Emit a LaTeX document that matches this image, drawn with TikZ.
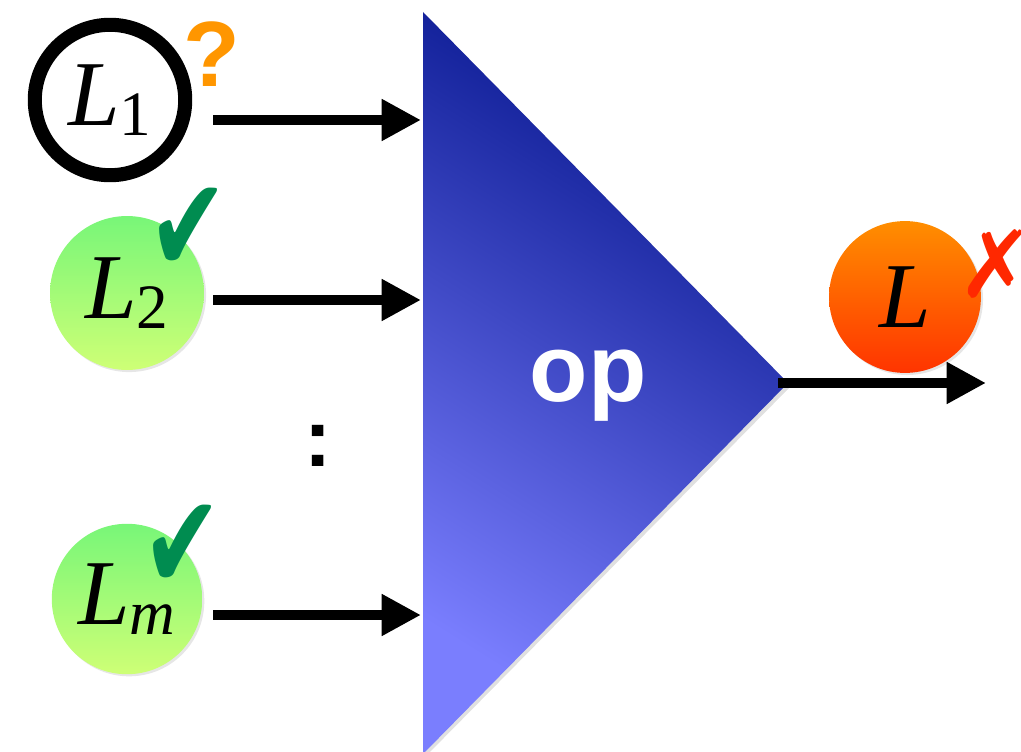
\documentclass[tikz,border=0pt]{standalone}
\usepackage{fontspec}
\setmainfont{Liberation Serif}
\newfontfamily\headfont{Liberation Sans}
\newfontfamily\markfont{DejaVu Sans}
\usetikzlibrary{arrows.meta,shadows}
\definecolor{opdark}{RGB}{4,20,140}
\definecolor{opmid}{RGB}{22,38,166}
\definecolor{oplight}{RGB}{122,126,254}
\definecolor{okgreen}{RGB}{0,140,80}
\definecolor{greentop}{RGB}{120,246,120}
\definecolor{greenbot}{RGB}{206,255,118}
\definecolor{orangetop}{RGB}{255,142,0}
\definecolor{orangebot}{RGB}{255,52,0}
\definecolor{qorange}{RGB}{255,150,0}
\definecolor{badred}{RGB}{255,40,0}
\newcommand\lname[1]{\textit{L}\raisebox{-0.1em}{\fontsize{45}{45}\selectfont #1}}
\tikzset{
  lang/.style={circle, inner sep=0pt, font=\fontsize{66}{66}\selectfont},
  ring/.style={lang, draw=black, line width=10pt, fill=white, minimum size=107pt,
    drop shadow={shadow xshift=1.5pt, shadow yshift=-1.5pt, opacity=0.25}},
  ok/.style={lang, top color=greentop, bottom color=greenbot,
    drop shadow={shadow xshift=1.5pt, shadow yshift=-1.5pt, opacity=0.2}},
  bad/.style={lang, top color=orangetop, bottom color=orangebot,
    drop shadow={shadow xshift=1.5pt, shadow yshift=-1.5pt, opacity=0.2}},
  arr/.style={-{Triangle[length=28pt,width=28pt]}, line width=7pt},
  tick/.style={font=\markfont\fontsize{68}{68}\selectfont, text=okgreen, inner sep=0pt}
}

\begin{document}
\begin{tikzpicture}[x=0.25mm, y=-0.25mm,
  cross/.style={font=\markfont\fontsize{66}{66}\selectfont, text=badred, inner sep=0pt},
  ask/.style={font=\headfont\bfseries\fontsize{66}{66}\selectfont, text=qorange, inner sep=0pt}
]
\useasboundingbox (0,0) rectangle (1021,752);
% the operator
\fill[black, opacity=0.12] (425,14) -- (791,386) -- (425,757) -- cycle;
\shade[shading=axis, top color=opdark, middle color=opmid, bottom color=oplight, shading angle=-32]
  (423,12) -- (788,383) -- (423,754) -- cycle;
\node[font=\headfont\bfseries\fontsize{68}{68}\selectfont, text=white] (op) at (588,386) {op};
\coordinate (in1) at (421,120);
\coordinate (in2) at (421,300);
\coordinate (in3) at (421,615);
\coordinate (apex) at (778,383);
\coordinate (out) at (986,383);
% inputs
\node[ring] (L1) at (110,100) {\lname{1}};
\node[ok, minimum size=109.5pt] (L2) at (127,293) {\lname{2}};
\node[ok, minimum size=107pt] (Lm) at (127,599) {\lname{\textit{m}}};
\node[ask] (q1) at (212,54) {?};
\node[tick] (t2) at (189,230) {\scalebox{1}[1.4]{✔}};
\node[tick] (tm) at (183,547) {\scalebox{1}[1.4]{✔}};
\node[font=\headfont\bfseries\fontsize{58}{58}\selectfont] (dots) at (318,446) {:};
\draw[arr, shorten <=6.4pt] (in1 -| L2.east) -- (in1);
\draw[arr, shorten <=6.4pt] (in2 -| L2.east) -- (in2);
\draw[arr, shorten <=6.4pt] (in3 -| L2.east) -- (in3);
% output
\node[bad, minimum size=108pt] (L) at (905,297) {\textit{L}};
\node[cross] (x) at (996,264) {✗};
\draw[arr] (apex) -- (out);
\end{tikzpicture}
\end{document}
